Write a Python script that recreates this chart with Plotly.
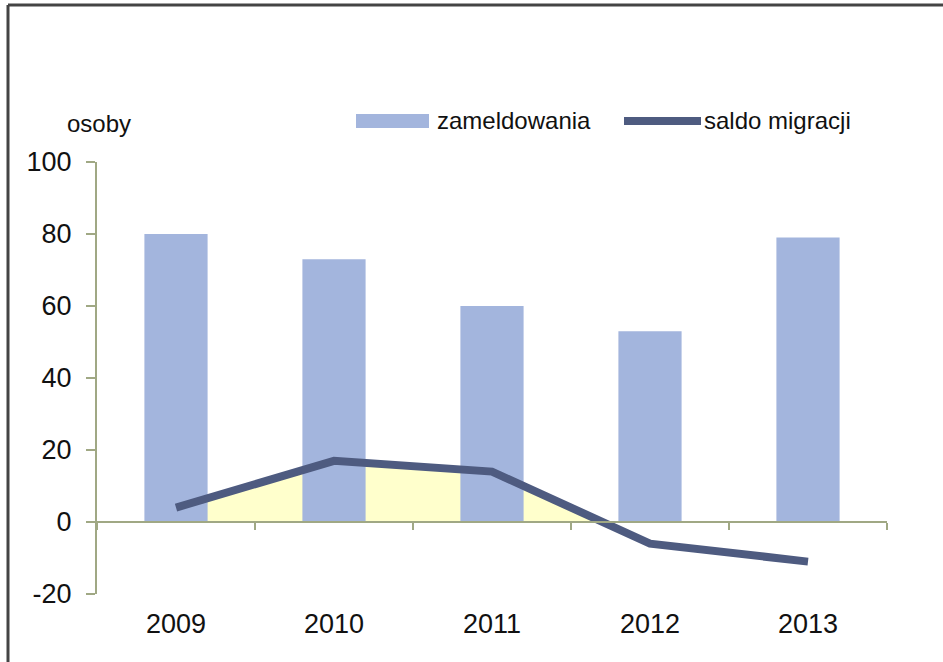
import plotly.graph_objects as go

# ---- data ----
years = ["2009", "2010", "2011", "2012", "2013"]
zameldowania = [80, 73, 60, 53, 79]
saldo_migracji = [4, 17, 14, -6, -11]
y_ticks = [-20, 0, 20, 40, 60, 80, 100]
y_tick_labels = [str(v) for v in y_ticks]

# ---- style ----
W, H = 943, 662
ML, MR, MT, MB = 97, 56, 162, 68
FONT = "Liberation Sans, Arial, sans-serif"
BAR_COLOR = "#A3B5DD"
LINE_COLOR = "#4E5B80"
FILL_COLOR = "#FFFFCC"
AXIS_COLOR = "#A0A884"
TEXT_COLOR = "#111111"

y_range = [y_ticks[0], y_ticks[-1]]
zero_frac = (0 - y_range[0]) / (y_range[1] - y_range[0])

pw, ph = W - ML - MR, H - MT - MB


def px(xp):
    return (xp - ML) / pw


def py(yp):
    return (H - MB - yp) / ph


fig = go.Figure()

# yellow area between the balance line and zero (positive part only, clipped by subplot)
fig.add_trace(go.Scatter(
    x=years, y=saldo_migracji, mode="lines", fill="tozeroy",
    fillcolor=FILL_COLOR, line=dict(width=0, color=FILL_COLOR),
    xaxis="x", yaxis="y", showlegend=False, hoverinfo="skip",
))

fig.add_trace(go.Bar(
    x=years, y=zameldowania, name="zameldowania", marker_color=BAR_COLOR,
    marker_line_width=0, xaxis="x2", yaxis="y2", showlegend=False,
))

fig.add_trace(go.Scatter(
    x=years, y=saldo_migracji, name="saldo migracji", mode="lines",
    line=dict(color=LINE_COLOR, width=8), xaxis="x2", yaxis="y2",
    showlegend=False,
))

cat_range = [-0.5, len(years) - 0.5]

fig.update_layout(
    width=W, height=H,
    margin=dict(l=ML, r=MR, t=MT, b=MB, pad=0),
    paper_bgcolor="white", plot_bgcolor="rgba(0,0,0,0)",
    font=dict(family=FONT, color=TEXT_COLOR, size=24),
    bargap=0.6,
    xaxis=dict(type="category", range=cat_range, domain=[0, 1], anchor="y",
               visible=False, fixedrange=True),
    yaxis=dict(range=[0, y_range[1]], domain=[zero_frac, 1], anchor="x",
               visible=False, fixedrange=True),
    xaxis2=dict(type="category", range=cat_range, domain=[0, 1],
                anchor="free", position=zero_frac,
                showline=True, linecolor=AXIS_COLOR, linewidth=2,
                ticks="outside", tickson="boundaries", ticklen=7, tickwidth=2,
                tickcolor=AXIS_COLOR, showgrid=False, zeroline=False,
                tickfont=dict(size=27, color=TEXT_COLOR, family=FONT),
                ticklabelstandoff=78),
    yaxis2=dict(range=y_range, domain=[0, 1], anchor="x2",
                tickmode="array", tickvals=y_ticks, ticktext=y_tick_labels,
                showline=True, linecolor=AXIS_COLOR,
                linewidth=2, ticks="outside", ticklen=9, tickwidth=2,
                tickcolor=AXIS_COLOR, showgrid=False, zeroline=False,
                tickfont=dict(size=27, color=TEXT_COLOR, family=FONT),
                ticklabelstandoff=9),
)

# legend drawn manually to match the reference look
shapes = [
    dict(type="rect", xref="paper", yref="paper",
         x0=px(356), x1=px(429), y0=py(128), y1=py(114),
         fillcolor=BAR_COLOR, line=dict(width=0)),
    dict(type="line", xref="paper", yref="paper",
         x0=px(624), x1=px(701), y0=py(121), y1=py(121),
         line=dict(color=LINE_COLOR, width=8)),
    # frame (left and top edges visible)
    dict(type="line", xref="paper", yref="paper",
         x0=px(8), x1=px(8), y0=py(5), y1=py(H + 10),
         line=dict(color="#444444", width=3)),
    dict(type="line", xref="paper", yref="paper",
         x0=px(8), x1=px(W + 10), y0=py(5), y1=py(5),
         line=dict(color="#444444", width=3)),
]

annotations = [
    dict(text="zameldowania", xref="paper", yref="paper", x=px(435), y=py(121),
         xanchor="left", yanchor="middle", showarrow=False,
         font=dict(size=24, color=TEXT_COLOR, family=FONT)),
    dict(text="saldo migracji", xref="paper", yref="paper", x=px(702), y=py(121),
         xanchor="left", yanchor="middle", showarrow=False,
         font=dict(size=24, color=TEXT_COLOR, family=FONT)),
    dict(text="osoby", xref="paper", yref="paper", x=px(65), y=py(124),
         xanchor="left", yanchor="middle", showarrow=False,
         font=dict(size=24, color=TEXT_COLOR, family=FONT)),
]

fig.update_layout(shapes=shapes, annotations=annotations)

fig.write_html("out.html", config={"displayModeBar": False},
               post_script="document.body.style.margin='0';")
